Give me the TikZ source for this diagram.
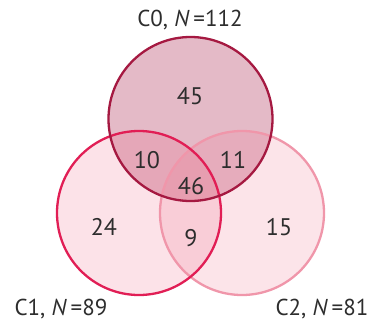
\documentclass[tikz,border=0pt]{standalone}
\usepackage{fontspec}
\setmainfont{PT Sans}
\definecolor{czero}{RGB}{165,25,65}
\definecolor{cone}{RGB}{225,30,85}
\definecolor{ctwo}{RGB}{240,150,170}
\definecolor{czerof}{RGB}{172,40,80}
\definecolor{conef}{RGB}{235,60,100}
\definecolor{ctwof}{RGB}{238,120,145}
\definecolor{txt}{RGB}{45,45,45}
\begin{document}
\begin{tikzpicture}[x=1pt,y=-1pt,
  num/.style={font=\fontsize{24}{24}\selectfont, text=txt},
  lab/.style={font=\fontsize{23}{23}\selectfont, text=txt},
  ring/.style={line width=2.3pt}]
\useasboundingbox (0,0) rectangle (373,322);
\fill[czerof, fill opacity=0.32] (190.5,119) circle (82);
\fill[conef, fill opacity=0.15] (139,213) circle (82);
\fill[ctwof, fill opacity=0.2] (242,213) circle (82);
\draw[ring, ctwo] (242,213) circle (82);
\draw[ring, cone] (139,213) circle (82);
\draw[ring, czero] (190.5,119) circle (82);
\node[lab] (l0) at (190,20) {C0, \textit{N}\,=112};
\node[lab] (l1) at (61,309) {C1, \textit{N}\,=89};
\node[lab] (l2) at (322,309) {C2, \textit{N}\,=81};
\node[num] (n45) at (190,96) {45};
\node[num] (n10) at (147,160) {10};
\node[num] (n11) at (233,160) {11};
\node[num] (n46) at (191,186) {46};
\node[num] (n24) at (104,227) {24};
\node[num] (n15) at (279,227) {15};
\node[num] (n9) at (191,238) {9};
\end{tikzpicture}
\end{document}
